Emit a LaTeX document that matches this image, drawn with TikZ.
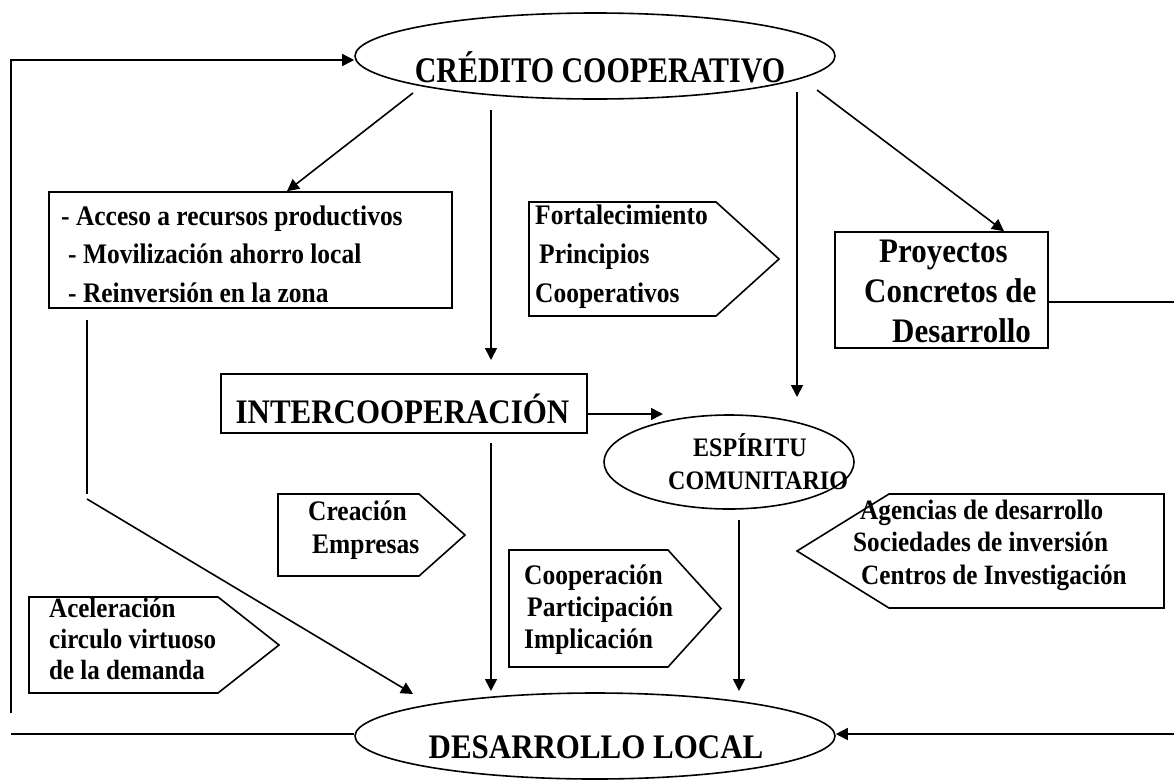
\documentclass[tikz,border=0pt]{standalone}
\usepackage{fontspec}
\usepackage{graphicx}
\setmainfont{Liberation Serif}[FakeStretch=0.9]
\usetikzlibrary{arrows.meta,shapes.geometric}
\newcommand\tblock[4]{{\fontsize{#1}{#2}\selectfont\bfseries\begin{tabular}[t]{@{}#3@{}}#4\end{tabular}}}
\tikzset{
 ln/.style={line width=1.6pt},
 arr/.style={ln, -{Triangle[length=12pt,width=12pt]}},
 shp/.style={draw, line width=1.6pt, inner sep=0pt},
 ell/.style={shp, ellipse},
 boxst/.style={shp, rectangle},
 txt/.style={inner sep=0pt, anchor=base west},
 txtc/.style={inner sep=0pt, anchor=base},
 pent/.style={line width=1.6pt, line join=miter},
}
\begin{document}
\begin{tikzpicture}[x=1pt,y=-1pt]
\useasboundingbox (0,0) rectangle (1174,782);
% ellipses
\node[ell, minimum width=480pt, minimum height=86pt] (cred) at (595,56) {};
\node[ell, minimum width=250pt, minimum height=94pt] (esp) at (729,462) {};
\node[ell, minimum width=480pt, minimum height=86pt] (dev) at (595,736) {};
% boxes
\node[boxst, minimum width=403pt, minimum height=116pt] (lbox) at (250.5,250) {};
\node[boxst, minimum width=366pt, minimum height=59pt] (inter) at (404,403.5) {};
\node[boxst, minimum width=213pt, minimum height=116pt] (proy) at (941.5,290) {};
% pentagons
\draw[pent] (529,202) -- (716,202) -- (779,259) -- (716,316) -- (529,316) -- cycle;
\draw[pent] (278,494) -- (419,494) -- (465,535) -- (419,576) -- (278,576) -- cycle;
\draw[pent] (29,597) -- (218,597) -- (279,645) -- (218,693) -- (29,693) -- cycle;
\draw[pent] (509,550) -- (668,550) -- (721,608.5) -- (668,667) -- (509,667) -- cycle;
\draw[pent] (797,551) -- (889,494) -- (1164,494) -- (1164,608) -- (889,608) -- cycle;
% texts
\node[txtc] (tcred) at (600,82) {\scalebox{0.925}[1]{\tblock{36}{40}{c}{CRÉDITO COOPERATIVO}}};
\node[txt] (tl) at (61,225) {\tblock{28.3}{38.5}{l}{- Acceso a recursos productivos\\ \hspace*{7pt}- Movilización ahorro local\\ \hspace*{7pt}- Reinversión en la zona}};
\node[txt] (tfort) at (535,224) {\tblock{28.3}{39}{l}{Fortalecimiento\\ \hspace*{4pt}Principios\\ Cooperativos}};
\node[txt] (tproy) at (864,262) {\tblock{34.4}{40}{l}{\hspace*{15pt}Proyectos\\ Concretos de\\ \hspace*{28pt}Desarrollo}};
\node[txtc] (tinter) at (402.5,423) {\tblock{34.4}{36}{c}{INTERCOOPERACIÓN}};
\node[txt] (tesp) at (668,456) {\tblock{26.7}{33}{l}{\hspace*{25pt}ESPÍRITU\\ COMUNITARIO}};
\node[txt] (tcrea) at (308,520) {\tblock{28.3}{33}{l}{Creación\\ \hspace*{4pt}Empresas}};
\node[txt] (tacel) at (49,617) {\tblock{27.8}{31}{l}{Aceleración\\ circulo virtuoso\\ de la demanda}};
\node[txt] (tcoop) at (524,584) {\tblock{28.3}{32}{l}{Cooperación\\ \hspace*{3pt}Participación\\ Implicación}};
\node[txt] (tagen) at (853,519) {\tblock{28}{32.5}{l}{\hspace*{7pt}Agencias de desarrollo\\ Sociedades de inversión\\ \hspace*{8pt}Centros de Investigación}};
\node[txtc] (tdev) at (596,758) {\tblock{34.4}{36}{c}{DESARROLLO LOCAL}};
% connectors
\coordinate (fbb) at (11,713);
\coordinate (fbt) at (11,60);
\draw[arr] (fbb) -- (fbt) -- (fbt -| cred.west);
\coordinate (blb) at (11,734);
\draw[ln] (blb) -- (blb -| dev.west);
\coordinate (rb) at (1174,734);
\draw[arr] (rb) -- (rb -| dev.east);
\coordinate (pr) at (1174,302);
\draw[ln] (pr -| proy.east) -- (pr);
\coordinate (a1s) at (413,93);
\draw[arr] (a1s) -- (287,0 |- lbox.north);
\coordinate (a2s) at (491,110); \coordinate (a2e) at (491,360);
\draw[arr] (a2s) -- (a2e);
\coordinate (a3s) at (797,92); \coordinate (a3e) at (797,397);
\draw[arr] (a3s) -- (a3e);
\coordinate (a4s) at (817,90);
\draw[arr] (a4s) -- (1004,0 |- proy.north);
\coordinate (a5e) at (663,414);
\draw[arr] (a5e -| inter.east) -- (a5e);
\coordinate (a6s) at (491,443); \coordinate (a6e) at (491,691);
\draw[arr] (a6s) -- (a6e);
\coordinate (a7s) at (739,520); \coordinate (a7e) at (739,691);
\draw[arr] (a7s) -- (a7e);
\coordinate (a8s) at (87,320); \coordinate (a8m) at (87,494);
\coordinate (a8n) at (87,499); \coordinate (a8e) at (413,694);
\draw[ln] (a8s) -- (a8m);
\draw[arr] (a8n) -- (a8e);
\end{tikzpicture}
\end{document}
